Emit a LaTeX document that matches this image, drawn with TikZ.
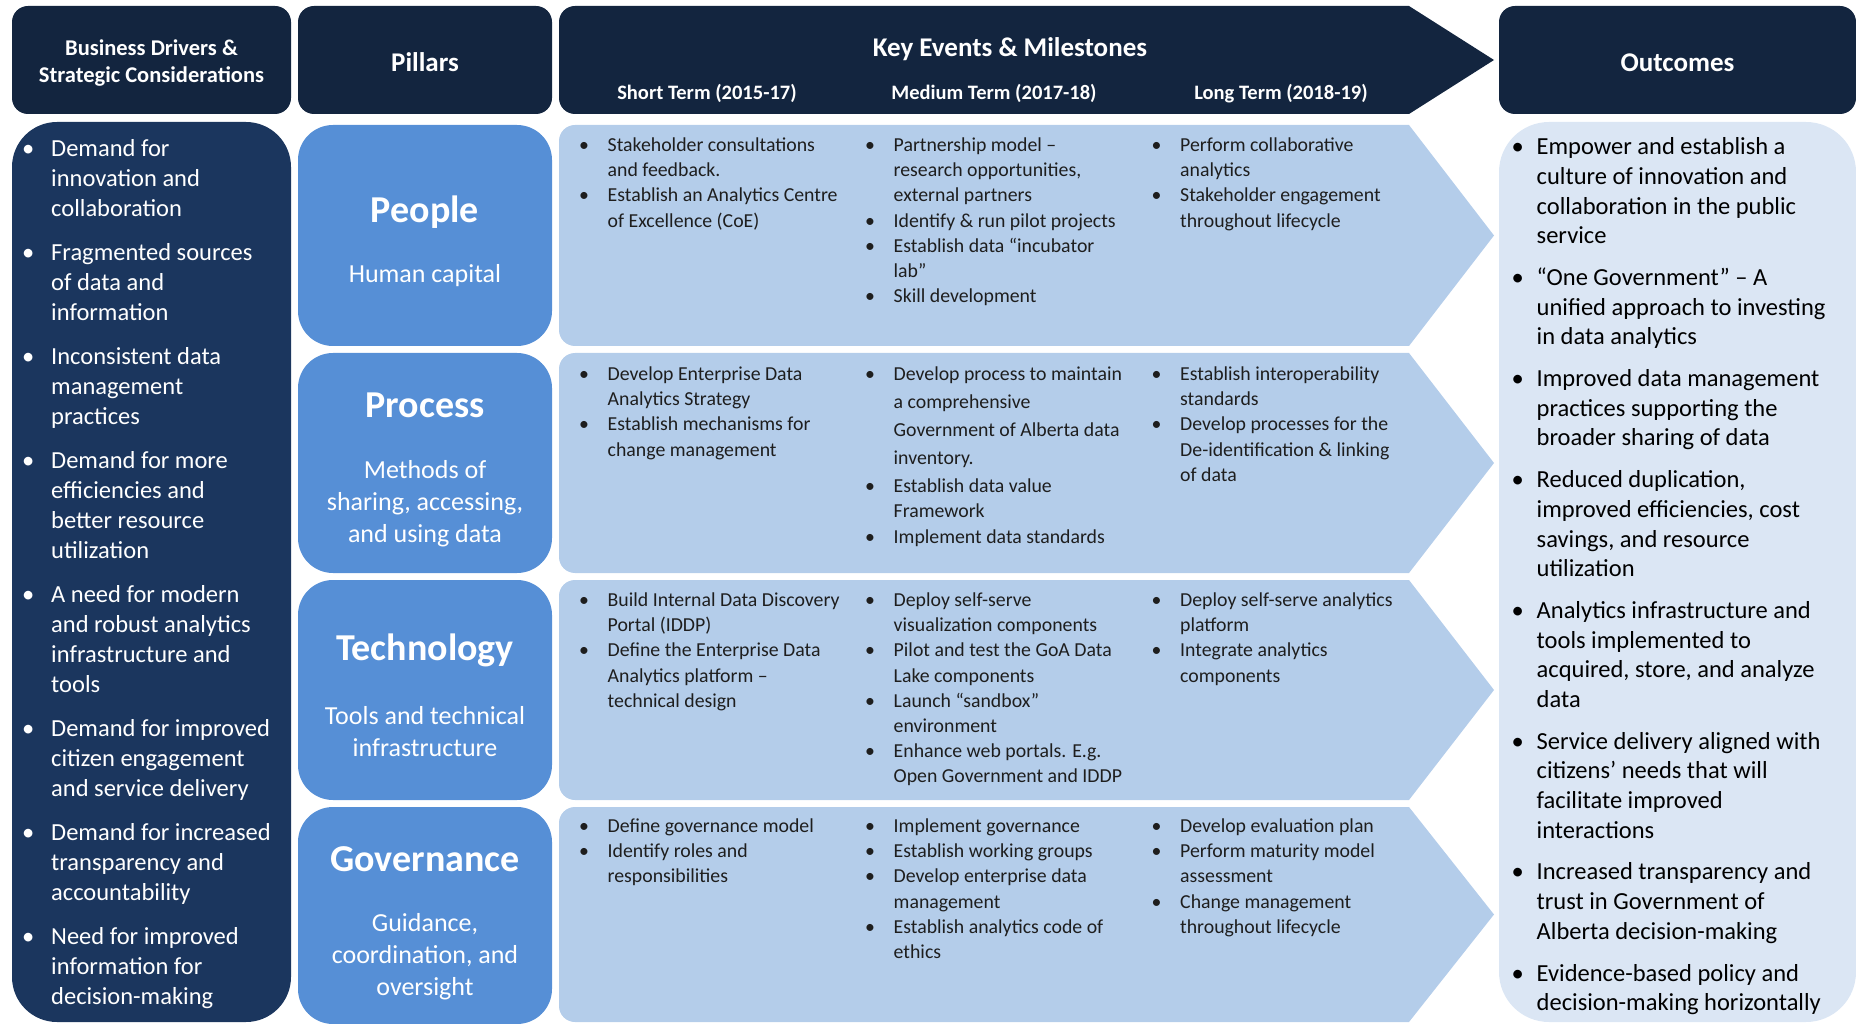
\documentclass[tikz,border=0pt]{standalone}
\usepackage{fontspec}
\setmainfont{Carlito}

\definecolor{navy}{HTML}{13253F}
\definecolor{drvblue}{HTML}{1B365E}
\definecolor{pillar}{HTML}{568FD6}
\definecolor{chevron}{HTML}{B4CDEA}
\definecolor{outcome}{HTML}{DBE6F4}
\definecolor{ink}{HTML}{1E1E1E}

% bullet blocks: hanging bullets with a fixed gap between items
\newlength\bl
\newlength\bgap
\newif\iffirstitem
\newcommand\bitem{\iffirstitem\global\firstitemfalse\else\par\vskip\bgap\fi
  \noindent\hangindent=\bl\hangafter=1\relax\makebox[\bl][l]{\textbullet}\ignorespaces}
% #1 width, #2 indent, #3 item gap, #4 font size, #5 line pitch, #6 items
% (\\ is a plain line break here, so the hanging indent is kept)
\newcommand\blk[6]{\begin{minipage}[t]{#1}\raggedright\def\\{\newline}\fontsize{#4}{#5}\selectfont
  \setlength\bl{#2}\setlength\bgap{#3}\global\firstitemtrue #6\par\end{minipage}}
% centred multi-line text, aligned on its first baseline
\newcommand\ctr[2]{\begin{minipage}[t]{#1}\centering #2\end{minipage}}

\tikzset{
  hdrbox/.style={fill=navy, rounded corners=16pt},
  txt/.style={inner sep=0pt, anchor=base},
  hdrtxt/.style={txt, text=white, font=\bfseries\fontsize{22.5}{27}\selectfont},
  bigtxt/.style={txt, text=white, font=\bfseries\fontsize{27}{32}\selectfont},
  subhd/.style={txt, text=white, font=\bfseries\fontsize{20.5}{25}\selectfont},
  ptitle/.style={txt, text=white, font=\bfseries\fontsize{38}{46}\selectfont},
  psub/.style={txt, text=white, font=\fontsize{26}{32}\selectfont},
  drvtxt/.style={inner sep=0pt, anchor=base west, text=white},
  evtxt/.style={inner sep=0pt, anchor=base west, text=ink},
  outtxt/.style={inner sep=0pt, anchor=base west, text=black},
}

\newcommand\evc[1]{\blk{300pt}{28.5pt}{0pt}{19.8}{25.2}{#1}}

\begin{document}
\begin{tikzpicture}[x=1pt,y=-1pt]
\useasboundingbox (0,0) rectangle (1856,1024);
\clip (0,0) rectangle (1856,1024);

% ---------- header row ----------
\fill[hdrbox] (12,6) rectangle (291,114);
\fill[hdrbox] (298,6) rectangle (552,114);
\fill[navy] [rounded corners=16pt] (1000,6) -- (559,6) -- (559,114) -- (1000,114)
  [sharp corners] -- (1409,114) -- (1494,60) -- (1409,6) -- cycle;
\fill[hdrbox] (1499,6) rectangle (1856,114);

\node[hdrtxt] (hdrivers) at (151.5,56) {\ctr{270pt}{Business Drivers \&\\ Strategic Considerations}};
\node[bigtxt] (hpillars) at (425,72) {Pillars};
\node[bigtxt] (hevents) at (1010,57) {Key Events \& Milestones};
\node[subhd] (hshort) at (707,100) {Short Term (2015-17)};
\node[subhd] (hmedium) at (994,100) {Medium Term (2017-18)};
\node[subhd] (hlong) at (1281,100) {Long Term (2018-19)};
\node[bigtxt] (houtcomes) at (1677.5,71.5) {Outcomes};

% ---------- column bodies ----------
\fill[drvblue, rounded corners=45pt] (12,122) rectangle (291,1022);
\fill[outcome, rounded corners=50pt] (1499,122) rectangle (1856,1022);

\foreach \t/\b in {125/346, 353/573, 580/800, 807/1024}{
  \fill[pillar, rounded corners=35pt] (298,\t) rectangle (552,\b);
}
\foreach \t/\b in {125/346, 353/573, 580/800, 807/1022}{
  \pgfmathsetmacro\m{(\t+\b)/2}
  \fill[chevron] [rounded corners=16pt] (1000,\t) -- (559,\t) -- (559,\b) -- (1000,\b)
    [sharp corners] -- (1409,\b) -- (1494,\m) -- (1409,\t) -- cycle;
}

% ---------- business drivers ----------
\node[drvtxt] (drivers) at (22,156.5) {\blk{268pt}{29pt}{14pt}{24.5}{30}{%
  \bitem Demand for\\ innovation and\\ collaboration
  \bitem Fragmented sources\\ of data and\\ information
  \bitem Inconsistent data\\ management\\ practices
  \bitem Demand for more\\ efficiencies and\\ better resource\\ utilization
  \bitem A need for modern\\ and robust analytics\\ infrastructure and\\ tools
  \bitem Demand for improved\\ citizen engagement\\ and service delivery
  \bitem Demand for increased\\ transparency and\\ accountability
  \bitem Need for improved\\ information for\\ decision-making}};

% ---------- pillars ----------
\node[ptitle] (ppeople) at (425,222.5) {People};
\node[psub] (speople) at (425,283) {Human capital};
\node[ptitle] (pprocess) at (425,417.5) {Process};
\node[psub] (sprocess) at (425,478) {\ctr{250pt}{Methods of\\ sharing, accessing,\\ and using data}};
\node[ptitle] (ptech) at (425,660.5) {Technology};
\node[psub] (stech) at (425,724) {\ctr{250pt}{Tools and technical\\ infrastructure}};
\node[ptitle] (pgov) at (425,871) {Governance};
\node[psub] (sgov) at (425,931) {\ctr{250pt}{Guidance,\\ coordination, and\\ oversight}};

% ---------- key events: people ----------
\node[evtxt] (pe1) at (579,151.5) {\evc{%
  \bitem Stakeholder consultations\\ and feedback.
  \bitem Establish an Analytics Centre\\ of Excellence (CoE)}};
\node[evtxt] (pe2) at (865,151.5) {\evc{%
  \bitem Partnership model –\\ research opportunities,\\ external partners
  \bitem Identify \& run pilot projects
  \bitem Establish data “incubator\\ lab”
  \bitem Skill development}};
\node[evtxt] (pe3) at (1151.5,151.5) {\evc{%
  \bitem Perform collaborative\\ analytics
  \bitem Stakeholder engagement\\ throughout lifecycle}};

% ---------- key events: process ----------
\node[evtxt] (pr1) at (579,380.5) {\evc{%
  \bitem Develop Enterprise Data\\ Analytics Strategy
  \bitem Establish mechanisms for\\ change management}};
\node[evtxt] (pr2) at (865,380.5) {\evc{%
  \bitem \baselineskip=28pt Develop process to maintain\\ a comprehensive\\ Government of Alberta data\\ inventory.\par
  \baselineskip=25.2pt\vskip3pt
  \bitem Establish data value\\ Framework
  \bitem Implement data standards}};
\node[evtxt] (pr3) at (1151.5,380.5) {\evc{%
  \bitem Establish interoperability\\ standards
  \bitem Develop processes for the\\ De-identification \& linking\\ of data}};

% ---------- key events: technology ----------
\node[evtxt] (te1) at (579,606.5) {\evc{%
  \bitem Build Internal Data Discovery\\ Portal (IDDP)
  \bitem Define the Enterprise Data\\ Analytics platform –\\ technical design}};
\node[evtxt] (te2) at (865,606.5) {\evc{%
  \bitem Deploy self-serve\\ visualization components
  \bitem Pilot and test the GoA Data\\ Lake components
  \bitem Launch “sandbox”\\ environment
  \bitem Enhance web portals. E.g.\\ Open Government and IDDP}};
\node[evtxt] (te3) at (1151.5,606.5) {\evc{%
  \bitem Deploy self-serve analytics\\ platform
  \bitem Integrate analytics\\ components}};

% ---------- key events: governance ----------
\node[evtxt] (go1) at (579,832.5) {\evc{%
  \bitem Define governance model
  \bitem Identify roles and\\ responsibilities}};
\node[evtxt] (go2) at (865,832.5) {\evc{%
  \bitem Implement governance
  \bitem Establish working groups
  \bitem Develop enterprise data\\ management
  \bitem Establish analytics code of\\ ethics}};
\node[evtxt] (go3) at (1151.5,832.5) {\evc{%
  \bitem Develop evaluation plan
  \bitem Perform maturity model\\ assessment
  \bitem Change management\\ throughout lifecycle}};

% ---------- outcomes ----------
\node[outtxt] (outcomes) at (1511.5,155) {\blk{340pt}{25pt}{12.3pt}{24.5}{29.6}{%
  \bitem Empower and establish a\\ culture of innovation and\\ collaboration in the public\\ service
  \bitem “One Government” – A\\ unified approach to investing\\ in data analytics
  \bitem Improved data management\\ practices supporting the\\ broader sharing of data
  \bitem Reduced duplication,\\ improved efficiencies, cost\\ savings, and resource\\ utilization
  \bitem Analytics infrastructure and\\ tools implemented to\\ acquired, store, and analyze\\ data
  \bitem Service delivery aligned with\\ citizens’ needs that will\\ facilitate improved\\ interactions
  \bitem Increased transparency and\\ trust in Government of\\ Alberta decision-making
  \bitem Evidence-based policy and\\ decision-making horizontally}};
\end{tikzpicture}
\end{document}
